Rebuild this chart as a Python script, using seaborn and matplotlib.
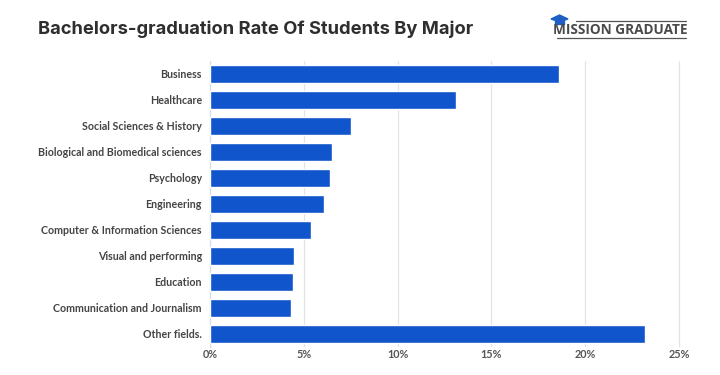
import matplotlib
matplotlib.use("Agg")
import matplotlib.pyplot as plt
from matplotlib.patches import Polygon
from matplotlib.lines import Line2D
import seaborn as sns
import pandas as pd

majors = ["Business", "Healthcare", "Social Sciences & History",
          "Biological and Biomedical sciences", "Psychology", "Engineering",
          "Computer & Information Sciences", "Visual and performing",
          "Education", "Communication and Journalism", "Other fields."]
rates = [18.6, 13.1, 7.5, 6.5, 6.4, 6.1, 5.4, 4.5, 4.4, 4.3, 23.2]
ticks = [0, 5, 10, 15, 20, 25]
title = "Bachelors-graduation Rate Of Students By Major"
logo = "MISSION GRADUATE"

sns.set_theme(style="white")
plt.rcParams["font.family"] = ["Lato", "DejaVu Sans"]

W, H = 720, 375
fig = plt.figure(figsize=(W / 100, H / 100), dpi=100, facecolor="white")
ax = fig.add_axes([210 / W, 1 - 347 / H, (685 - 210) / W, (347 - 61) / H])

df = pd.DataFrame({"major": majors, "rate": rates})
sns.barplot(data=df, x="rate", y="major", orient="h", color="#1155CC",
            saturation=1, width=0.66, ax=ax, zorder=3)

ax.set_xlim(0, 475 / 18.76)
ax.set_xticks(ticks)
ax.set_xticklabels([f"{t}%" for t in ticks], fontsize=7.8, fontweight="bold", color="#555555")
ax.tick_params(axis="y", labelsize=7.65, length=0, pad=5.8, labelcolor="#444444")
ax.tick_params(axis="x", length=0, pad=1.8)
for lab in ax.get_yticklabels():
    lab.set_fontweight("bold")
ax.set_xlabel("")
ax.set_ylabel("")
ax.grid(axis="x", color="#E3E3E3", linewidth=0.9, zorder=0)
ax.set_axisbelow(True)
for s in ax.spines.values():
    s.set_visible(False)
ax.spines["left"].set_visible(True)
ax.spines["left"].set_color("#D5DEEE")
ax.spines["left"].set_linewidth(0.9)

fig.text(38 / W, 1 - 29 / H, title, fontsize=13.2, fontweight="bold", color="#2E2E2E",
         ha="left", va="center", family=["Inter", "DejaVu Sans"])

fig.text(553 / W, 1 - 30 / H, logo, fontsize=9.8, fontweight="bold", color="#4A4A4A",
         ha="left", va="center", family=["Open Sans", "DejaVu Sans"])
for y, x0, x1 in [(20.5, 576, 686), (38, 557, 686)]:
    fig.add_artist(Line2D([x0 / W, x1 / W], [1 - y / H, 1 - y / H], color="#555555", lw=0.9))
cap = [(551, 19), (559.5, 15), (568, 19), (559.5, 22)]
fig.add_artist(Polygon([(x / W, 1 - y / H) for x, y in cap], closed=True, color="#1F5FC4",
                       transform=fig.transFigure))
base = [(555, 21), (564, 21), (564, 24), (555, 24)]
fig.add_artist(Polygon([(x / W, 1 - y / H) for x, y in base], closed=True, color="#1F5FC4",
                       transform=fig.transFigure))

fig.savefig("out.png", dpi=100, facecolor="white")
